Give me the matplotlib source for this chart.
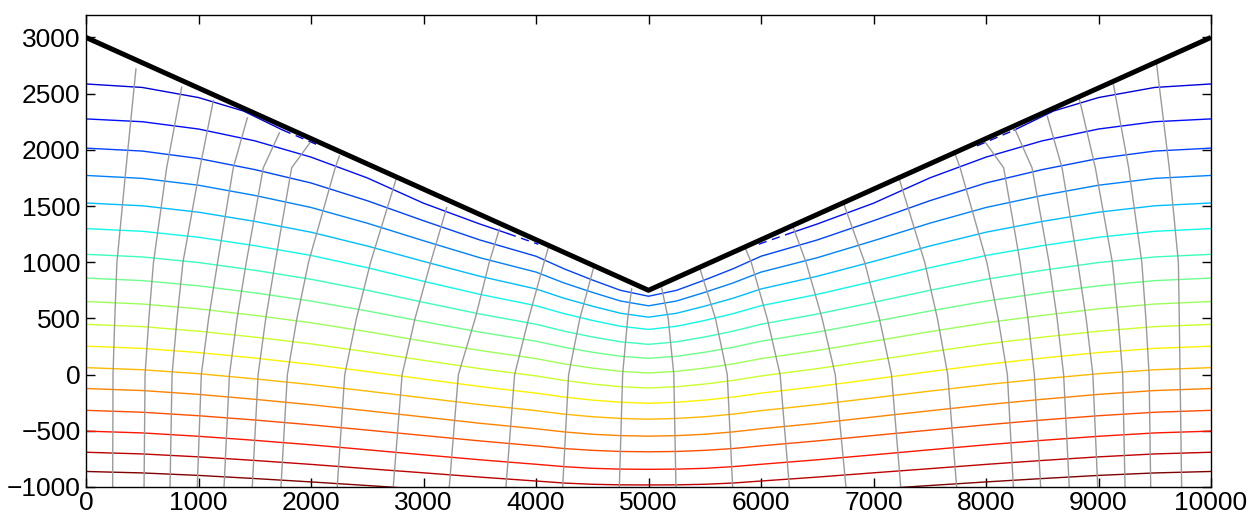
import matplotlib
matplotlib.use("Agg")
import matplotlib.pyplot as plt
import numpy as np

# ---------------- data ----------------
surface_x = [0, 5000, 10000]
surface_y = [3000, 750, 3000]

iso_x = [0, 500, 1000, 1500, 2000, 2500, 3000, 3500, 4000, 4250, 4500, 4750, 5000,
         5250, 5500, 5750, 6000, 6500, 7000, 7500, 8000, 8500, 9000, 9500, 10000]

# isolines that end at the surface (last / first segment drawn dashed)
iso_01_left_x = [0, 500, 1000, 1400, 1750, 2080]
iso_01_left_y = [2586, 2555, 2465, 2345, 2175, 2035]
iso_01_right_x = [7920, 8250, 8600, 9000, 9500, 10000]
iso_01_right_y = [2035, 2175, 2345, 2465, 2555, 2586]
iso_02_left_x = [0, 500, 1000, 1500, 2000, 2500, 3000, 3500, 3750, 4020]
iso_02_left_y = [2275, 2250, 2185, 2080, 1935, 1750, 1525, 1340, 1255, 1160]
iso_02_right_x = [5980, 6250, 6500, 7000, 7500, 8000, 8500, 9000, 9500, 10000]
iso_02_right_y = [1160, 1255, 1340, 1525, 1750, 1935, 2080, 2185, 2250, 2275]

iso_03 = [2015, 1989, 1923, 1824, 1705, 1547, 1369, 1198, 1053, 941, 842, 750, 697,
          750, 842, 941, 1053, 1198, 1369, 1547, 1705, 1824, 1923, 1989, 2015]
iso_04 = [1772, 1746, 1685, 1594, 1487, 1347, 1191, 1040, 912, 815, 732, 655, 612,
          655, 732, 815, 912, 1040, 1191, 1347, 1487, 1594, 1685, 1746, 1772]
iso_05 = [1527, 1502, 1445, 1363, 1267, 1144, 1007, 875, 762, 679, 609, 546, 511,
          546, 609, 679, 762, 875, 1007, 1144, 1267, 1363, 1445, 1502, 1527]
iso_06 = [1299, 1275, 1222, 1147, 1060, 951, 830, 714, 613, 542, 482, 430, 402,
          430, 482, 542, 613, 714, 830, 951, 1060, 1147, 1222, 1275, 1299]
iso_07 = [1070, 1047, 997, 928, 848, 750, 643, 539, 448, 386, 335, 292, 269,
          292, 335, 386, 448, 539, 643, 750, 848, 928, 997, 1047, 1070]
iso_08 = [859, 836, 790, 727, 654, 566, 471, 378, 297, 243, 199, 163, 145,
          163, 199, 243, 297, 378, 471, 566, 654, 727, 790, 836, 859]
iso_09 = [650, 628, 585, 527, 461, 382, 297, 215, 142, 95, 58, 29, 14,
          29, 58, 95, 142, 215, 297, 382, 461, 527, 585, 628, 650]
iso_10 = [447, 427, 386, 333, 273, 202, 127, 53, -12, -52, -84, -108, -119,
          -108, -84, -52, -12, 53, 127, 202, 273, 333, 386, 427, 447]
iso_11 = [253, 233, 196, 147, 91, 27, -40, -106, -165, -200, -227, -246, -255,
          -246, -227, -200, -165, -106, -40, 27, 91, 147, 196, 233, 253]
iso_12 = [62, 43, 8, -38, -89, -147, -207, -267, -321, -352, -375, -390, -397,
          -390, -375, -352, -321, -267, -207, -147, -89, -38, 8, 43, 62]
iso_13 = [-124, -142, -176, -220, -268, -322, -377, -433, -482, -510, -531, -543, -548,
          -543, -531, -510, -482, -433, -377, -322, -268, -220, -176, -142, -124]
iso_14 = [-318, -335, -366, -404, -447, -494, -542, -590, -634, -658, -674, -684, -687,
          -684, -674, -658, -634, -590, -542, -494, -447, -404, -366, -335, -318]
iso_15 = [-503, -519, -549, -585, -625, -669, -714, -758, -798, -819, -834, -841, -843,
          -841, -834, -819, -798, -758, -714, -669, -625, -585, -549, -519, -503]
iso_16 = [-691, -706, -732, -764, -799, -837, -874, -912, -947, -965, -976, -981, -982,
          -981, -976, -965, -947, -912, -874, -837, -799, -764, -732, -706, -691]
iso_17 = [-862, -875, -897, -925, -955, -987, -1020, -1052, -1082, -1097, -1107, -1111, -1112,
          -1111, -1107, -1097, -1082, -1052, -1020, -987, -955, -925, -897, -875, -862]

# flow lines: x at fixed depths, plus end point just below the surface
flow_bottom_x = [237, 516, 747, 989, 1227, 1478, 1733, 2233, 2731, 3229, 3733, 4237, 4741,
                 5244, 5748, 6252, 6755, 7242, 7739, 8243, 8486, 8740, 8993, 9236, 9464, 9739]
flow_zero_x = [240, 525, 765, 1025, 1275, 1530, 1790, 2300, 2810, 3310, 3810, 4290, 4770,
               5225, 5700, 6170, 6660, 7160, 7660, 8190, 8430, 8690, 8950, 9215, 9450, 9725]
flow_k05_x = [256, 559, 809, 1090, 1343, 1598, 1875, 2404, 2925, 3460, 3935, 4390, 4815,
              5175, 5595, 6055, 6543, 7052, 7568, 8108, 8373, 8632, 8890, 9174, 9421, 9718]
flow_k1_x = [275, 600, 862, 1170, 1425, 1682, 1978, 2530, 3064, 3585, 4072, None, None,
             None, None, 5913, 6400, 6921, 7455, 8007, 8303, 8560, 8815, 9123, 9385, 9710]
flow_k18_x = [356, 717, 1013, 1309, 1576, 1828, 2215, None, None, None, None, None, None,
              None, None, None, None, None, None, 7770, 8157, 8409, 8676, 8972, 9268, 9629]
flow_top_x = [444, 851, 1132, 1434, 1719, 1991, 2252, 2756, 3206, 3674, 4110, 4509, 4850,
              5117, 5458, 5858, 6287, 6732, 7221, 7716, 7982, 8258, 8545, 8829, 9132, 9517]
flow_top_y = [2719, 2557, 2439, 2284, 2151, 2063, 1945, 1738, 1486, 1294, 1131, 940, 762,
              770, 940, 1131, 1309, 1530, 1767, 1989, 2084, 2182, 2299, 2456, 2586, 2758]
flow_levels = [-1000, 0, 500, 1000, 1840]

x_ticks = [0, 1000, 2000, 3000, 4000, 5000, 6000, 7000, 8000, 9000, 10000]
y_ticks = [-1000, -500, 0, 500, 1000, 1500, 2000, 2500, 3000]

# ---------------- drawing ----------------
plt.rcParams['font.family'] = ['Liberation Sans', 'DejaVu Sans']
fig = plt.figure(figsize=(12.5, 5.21), dpi=100)
ax = fig.add_axes([0.0688, 0.0653, 0.9, 0.906])

full_lines = [iso_03, iso_04, iso_05, iso_06, iso_07, iso_08, iso_09, iso_10,
              iso_11, iso_12, iso_13, iso_14, iso_15, iso_16, iso_17]
n_iso = 17
colors = plt.cm.jet(np.linspace(0.08, 1.0, n_iso))

iso_lw = 1.0
dash = (0, (6, 4))
# left pieces: dashed final segment
for k, (xs, ys) in enumerate([(iso_01_left_x, iso_01_left_y), (iso_02_left_x, iso_02_left_y)]):
    ax.plot(xs[:-1], ys[:-1], color=colors[k], lw=iso_lw)
    ax.plot(xs[-2:], ys[-2:], color=colors[k], lw=iso_lw, linestyle=dash)
# right pieces: dashed first segment
for k, (xs, ys) in enumerate([(iso_01_right_x, iso_01_right_y), (iso_02_right_x, iso_02_right_y)]):
    ax.plot(xs[1:], ys[1:], color=colors[k], lw=iso_lw)
    ax.plot(xs[:2], ys[:2], color=colors[k], lw=iso_lw, linestyle=dash)
for i, ys in enumerate(full_lines):
    ax.plot(iso_x, ys, color=colors[i + 2], lw=iso_lw)

for i in range(len(flow_bottom_x)):
    xs = [flow_bottom_x[i], flow_zero_x[i], flow_k05_x[i], flow_k1_x[i], flow_k18_x[i]]
    px, py = [], []
    for xv, yv in zip(xs, flow_levels):
        if xv is not None and yv < flow_top_y[i]:
            px.append(xv)
            py.append(yv)
    px.append(flow_top_x[i])
    py.append(flow_top_y[i])
    ax.plot(px, py, color='#9a9a9a', lw=1.0)

ax.plot(surface_x, surface_y, color='black', lw=3.6, solid_capstyle='butt', zorder=5)

ax.set_xlim(0, 10000)
ax.set_ylim(-1000, 3200)
ax.set_xticks(x_ticks)
ax.set_yticks(y_ticks)
ax.tick_params(direction='in', length=6.5, width=1, top=True, right=True,
               labelsize=19)
ax.tick_params(axis='x', pad=3)
ax.tick_params(axis='y', pad=4)
ax.set_yticklabels([f"{v}".replace('-', '\u2212') for v in y_ticks])
for s in ax.spines.values():
    s.set_linewidth(1)

fig.savefig('out.png', dpi=100)
